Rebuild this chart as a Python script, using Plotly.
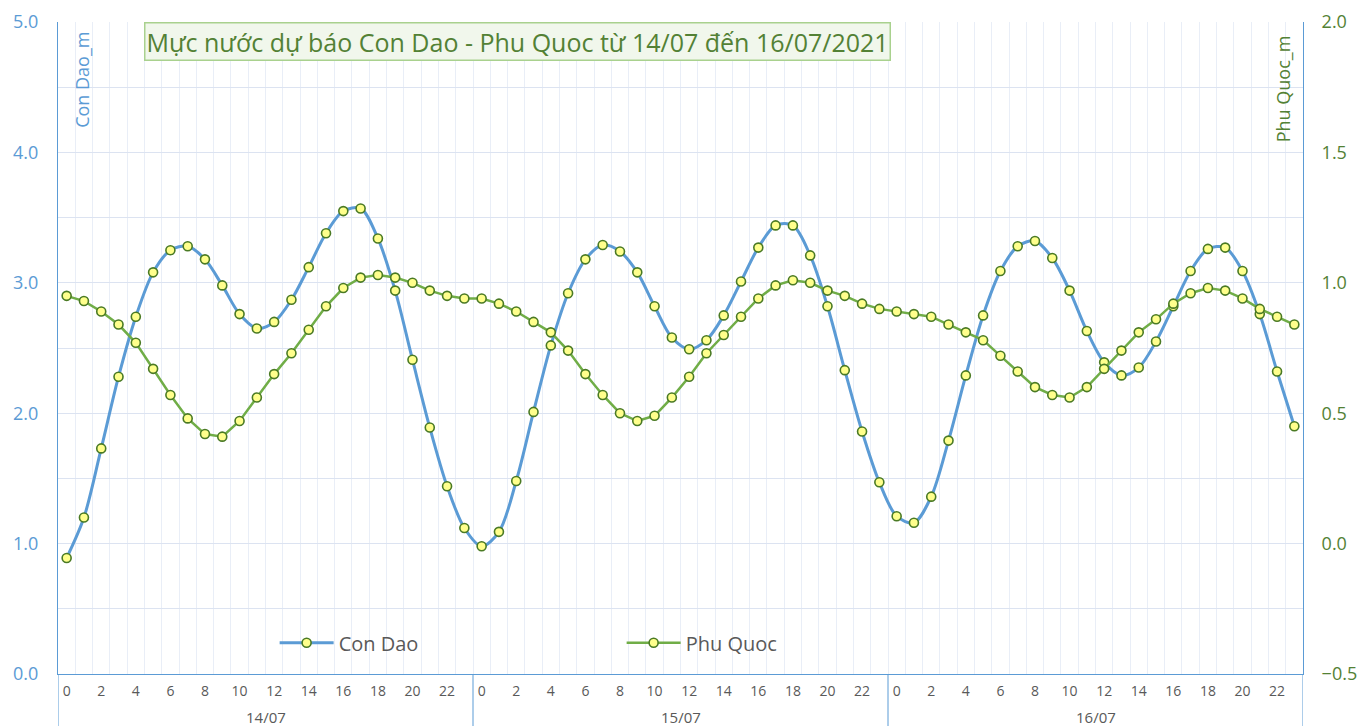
import plotly.graph_objects as go

days = ["14/07", "15/07", "16/07"]
hours = list(range(24))
hour_labels = [str(h) for h in range(0, 24, 2)]

con_dao = [0.89, 1.20, 1.73, 2.28, 2.74, 3.08, 3.25, 3.28, 3.18, 2.98, 2.76, 2.65,
           2.70, 2.87, 3.12, 3.38, 3.55, 3.57, 3.34, 2.94, 2.41, 1.89, 1.44, 1.12,
           0.98, 1.09, 1.48, 2.01, 2.52, 2.92, 3.18, 3.29, 3.24, 3.08, 2.82, 2.58,
           2.49, 2.56, 2.75, 3.01, 3.27, 3.44, 3.44, 3.21, 2.82, 2.33, 1.86, 1.47,
           1.21, 1.16, 1.36, 1.79, 2.29, 2.75, 3.09, 3.28, 3.32, 3.19, 2.94, 2.63,
           2.39, 2.29, 2.35, 2.55, 2.82, 3.09, 3.26, 3.27, 3.09, 2.76, 2.32, 1.90]

phu_quoc = [0.95, 0.93, 0.89, 0.84, 0.77, 0.67, 0.57, 0.48, 0.42, 0.41, 0.47, 0.56,
            0.65, 0.73, 0.82, 0.91, 0.98, 1.02, 1.03, 1.02, 1.00, 0.97, 0.95, 0.94,
            0.94, 0.92, 0.89, 0.85, 0.81, 0.74, 0.65, 0.57, 0.50, 0.47, 0.49, 0.56,
            0.64, 0.73, 0.80, 0.87, 0.94, 0.99, 1.01, 1.00, 0.97, 0.95, 0.92, 0.90,
            0.89, 0.88, 0.87, 0.84, 0.81, 0.78, 0.72, 0.66, 0.60, 0.57, 0.56, 0.60,
            0.67, 0.74, 0.81, 0.86, 0.92, 0.96, 0.98, 0.97, 0.94, 0.90, 0.87, 0.84]

title_text = "Mực nước dự báo Con Dao - Phu Quoc từ 14/07 đến 16/07/2021"

FONT = "Open Sans"
BLUE = "#5B9BD5"
GREEN = "#70AD47"
DKGREEN = "#538135"
GRID = "#DCE3F1"
VGRID = "#E9EEF7"

n = len(days) * len(hours)
xs = list(range(n))
tickvals = [d * 24 + h for d in range(len(days)) for h in range(0, 24, 2)]
ticktext = hour_labels * len(days)

marker = dict(symbol="circle", size=9, color="#FFFF8C", line=dict(color="#4A7A24", width=1.6))

fig = go.Figure()
fig.add_trace(go.Scatter(x=xs, y=con_dao, name="Con Dao", mode="lines+markers",
                         line=dict(color=BLUE, width=3, shape="spline", smoothing=0.9),
                         marker=marker, yaxis="y"))
fig.add_trace(go.Scatter(x=xs, y=phu_quoc, name="Phu Quoc", mode="lines+markers",
                         line=dict(color=GREEN, width=2.5),
                         marker=marker, yaxis="y2"))

fig.update_layout(
    width=1359, height=726,
    margin=dict(l=58, r=56, t=22, b=52, autoexpand=False),
    paper_bgcolor="white", plot_bgcolor="white",
    font=dict(family=FONT, color="#595959"),
    showlegend=True,
    legend=dict(orientation="h", x=0.174, y=0.048, xanchor="left", yanchor="middle",
                bgcolor="rgba(0,0,0,0)", font=dict(size=20, color="#595959", family=FONT),
                itemwidth=54, entrywidth=278, entrywidthmode="pixels"),
    xaxis=dict(range=[-0.5, n - 0.5], tickmode="array", tickvals=tickvals, ticktext=ticktext,
               showgrid=False, zeroline=False, showline=True, linecolor=BLUE, linewidth=1,
               ticks="", tickfont=dict(size=14, color="#595959", family=FONT),
               ticklabelstandoff=4, automargin=False,
               minor=dict(tickmode="array", tickvals=[i - 0.5 for i in range(n + 1)],
                          showgrid=True, gridcolor=VGRID, gridwidth=1, ticks="")),
    yaxis=dict(range=[0, 5], dtick=1, tickformat=".1f", showgrid=True, gridcolor=GRID,
               gridwidth=1, zeroline=False, showline=True, linecolor=BLUE, linewidth=1,
               ticks="", tickfont=dict(size=18, color=BLUE, family=FONT), ticklabelstandoff=15,
               automargin=False,
               minor=dict(dtick=0.5, showgrid=True, gridcolor=GRID, gridwidth=1)),
    yaxis2=dict(range=[-0.5, 2.0], dtick=0.5, tickformat=".1f", overlaying="y", side="right",
                showgrid=False, zeroline=False, showline=True, linecolor=BLUE, linewidth=1,
                ticks="", tickfont=dict(size=18, color=DKGREEN, family=FONT), ticklabelstandoff=14,
                automargin=False),
)

annotations = [
    dict(text=title_text, xref="paper", yref="paper", x=0.0687, y=1.0, xanchor="left", yanchor="top",
         showarrow=False, font=dict(size=25, color=DKGREEN, family=FONT),
         bgcolor="#F1F7EC", bordercolor="#A9D18E", borderwidth=1.5, borderpad=1),
    dict(text="Con Dao_m", xref="paper", yref="paper", x=0.0193, y=0.988, xanchor="center", yanchor="top",
         textangle=-90, showarrow=False, font=dict(size=18, color=BLUE, family=FONT)),
    dict(text="Phu Quoc_m", xref="paper", yref="paper", x=0.984, y=0.982, xanchor="center", yanchor="top",
         textangle=-90, showarrow=False, font=dict(size=18, color=DKGREEN, family=FONT)),
]
for d, day in enumerate(days):
    annotations.append(dict(text=day, xref="x", yref="paper", x=d * 24 + 11.5, y=-0.066,
                            xanchor="center", yanchor="middle", showarrow=False,
                            font=dict(size=15, color="#595959", family=FONT)))
fig.update_layout(annotations=annotations)

shapes = []
for d in range(len(days) + 1):
    shapes.append(dict(type="line", xref="x", yref="paper", x0=d * 24 - 0.5, x1=d * 24 - 0.5,
                       y0=0, y1=-0.085, line=dict(color=BLUE, width=1)))
fig.update_layout(shapes=shapes)

fig.write_html("out.html", config={"displayModeBar": False},
               post_script="document.body.style.margin='0';document.body.style.overflow='hidden';")
